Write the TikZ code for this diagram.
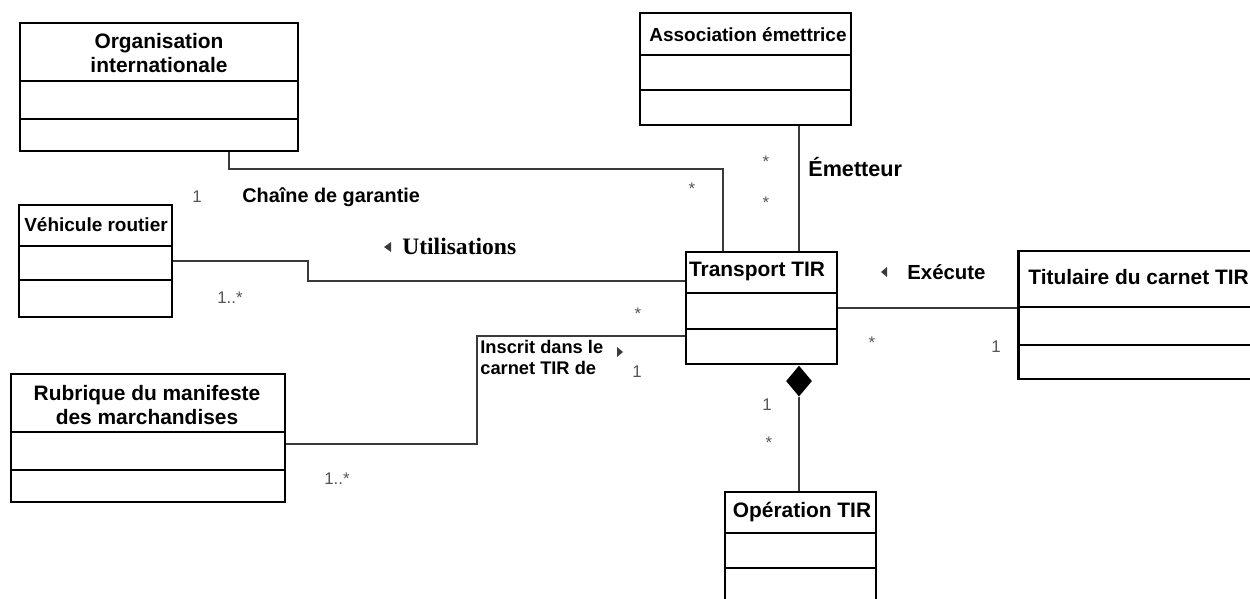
\documentclass[tikz,border=0pt]{standalone}
\usepackage{fontspec}
\setmainfont{Liberation Sans}
\newfontfamily\timesface{Liberation Serif}
\usetikzlibrary{shapes.geometric}
\definecolor{linegray}{HTML}{3A3A3A}
\definecolor{multgray}{HTML}{555555}
\begin{document}
\begin{tikzpicture}[x=0.02cm,y=-0.02cm,
  frame/.style={draw=black, line width=#1, inner sep=0pt},
  sep/.style={draw=black, line width=#1},
  classtitle/.style={font=\bfseries\fontsize{11.9pt}{13.3pt}\selectfont, inner sep=0pt, align=center},
  smalltitle/.style={font=\bfseries\fontsize{10.8pt}{12.5pt}\selectfont, inner sep=0pt, align=center},
  assoclabel/.style={font=\bfseries\fontsize{11.6pt}{13pt}\selectfont, inner sep=0pt, anchor=west},
  mult/.style={font=\fontsize{9.6pt}{11pt}\selectfont, text=multgray, inner sep=0pt},
  conn/.style={draw=linegray, line width=0.9pt},
  dirtri/.style={fill=linegray}]
\useasboundingbox (0,0) rectangle (1250,598);

% ---- classes ----
% Organisation internationale
\node[frame=1.7pt, minimum width={278*0.02cm}, minimum height={128*0.02cm}] (org) at (159,87) {};
\draw[sep=1.7pt] (org.west |- 0,81) -- (org.east |- 0,81);
\draw[sep=1.7pt] (org.west |- 0,119) -- (org.east |- 0,119);
\node[classtitle] (orgT) at (159,53) {Organisation\\internationale};

% Association émettrice
\node[frame=1.2pt, minimum width={211*0.02cm}, minimum height={112*0.02cm}] (assoc) at (745.5,69) {};
\draw[sep=1.2pt] (assoc.west |- 0,55) -- (assoc.east |- 0,55);
\draw[sep=1.2pt] (assoc.west |- 0,90) -- (assoc.east |- 0,90);
\node[smalltitle] (assocT) at (748,35) {Association émettrice};

% Véhicule routier
\node[frame=1.2pt, minimum width={153*0.02cm}, minimum height={112*0.02cm}] (veh) at (95.5,261) {};
\draw[sep=1.2pt] (veh.west |- 0,246) -- (veh.east |- 0,246);
\draw[sep=1.2pt] (veh.west |- 0,280) -- (veh.east |- 0,280);
\node[smalltitle] (vehT) at (96,225) {Véhicule routier};

% Transport TIR
\node[frame=1.4pt, minimum width={151*0.02cm}, minimum height={112*0.02cm}] (trans) at (761.5,308) {};
\draw[sep=1.4pt] (trans.west |- 0,293) -- (trans.east |- 0,293);
\draw[sep=1.4pt] (trans.west |- 0,329) -- (trans.east |- 0,329);
\node[classtitle] (transT) at (757,271) {Transport TIR};

% Titulaire du carnet TIR
\node[frame=1.7pt, minimum width={236*0.02cm}, minimum height={128*0.02cm}] (tit) at (1136,315) {};
\draw[sep=1.7pt] (tit.west |- 0,307) -- (tit.east |- 0,307);
\draw[sep=1.7pt] (tit.west |- 0,345) -- (tit.east |- 0,345);
\node[classtitle, anchor=west] (titT) at (1028,277) {Titulaire du carnet TIR};

% Rubrique du manifeste des marchandises
\node[frame=1.7pt, minimum width={274*0.02cm}, minimum height={128*0.02cm}] (rub) at (148,438) {};
\draw[sep=1.7pt] (rub.west |- 0,432) -- (rub.east |- 0,432);
\draw[sep=1.7pt] (rub.west |- 0,470) -- (rub.east |- 0,470);
\node[classtitle] (rubT) at (147,405) {Rubrique du manifeste\\des marchandises};

% Opération TIR
\node[frame=1.2pt, minimum width={151*0.02cm}, minimum height={120*0.02cm}] (op) at (800.5,552) {};
\draw[sep=1.2pt] (op.west |- 0,533) -- (op.east |- 0,533);
\draw[sep=1.2pt] (op.west |- 0,568) -- (op.east |- 0,568);
\node[classtitle] (opT) at (802,512) {Opération TIR};

% ---- associations ----
% Chaîne de garantie
\draw[conn] (org.south -| 229,0) -- (229,169) -- (723,169) -- (trans.north -| 723,0);
\node[mult] (m1) at (197,197) {1};
\node[assoclabel, font=\bfseries\fontsize{11.3pt}{13pt}\selectfont] (chaine) at (242,197) {Chaîne de garantie};
\node[mult] (m2) at (692,189) {*};

% Émetteur
\draw[conn] (assoc.south -| 799,0) -- (trans.north -| 799,0);
\node[mult] (m3) at (766,162) {*};
\node[mult] (m4) at (766,203) {*};
\node[assoclabel, font=\bfseries\fontsize{12.3pt}{14pt}\selectfont] (emet) at (808,167) {Émetteur};

% Utilisations
\draw[conn] (veh.east |- 0,261) -- (308,261) -- (308,281) -- (trans.west |- 0,281);
\fill[dirtri] (391,242) -- (384,247) -- (391,252) -- cycle;
\node[anchor=west, inner sep=0pt, font=\timesface\bfseries\fontsize{13.4pt}{15pt}\selectfont] (util) at (402,246) {Utilisations};
\node[mult] (m5) at (230,298) {1..*};
\node[mult] (m6) at (638,314) {*};

% Inscrit dans le carnet TIR de
\draw[conn] (rub.east |- 0,444) -- (477,444) -- (477,336) -- (trans.west |- 0,336);
\node[anchor=north west, inner sep=0pt, align=left, font=\bfseries\fontsize{10.4pt}{11.9pt}\selectfont] (inscr) at (480,340) {Inscrit dans le\\carnet TIR de};
\fill[dirtri] (617,347) -- (623,352) -- (617,357) -- cycle;
\node[mult] (m7) at (637,372) {1};
\node[mult] (m8) at (337,479) {1..*};

% Exécute
\draw[conn] (trans.east |- 0,308) -- (tit.west |- 0,308);
\fill[dirtri] (887,267) -- (881,272) -- (887,277) -- cycle;
\node[assoclabel] (exec) at (907,272) {Exécute};
\node[mult] (m9) at (872,343) {*};
\node[mult] (m10) at (996,347) {1};

% Composition Transport TIR -- Opération TIR
\node[diamond, fill=black, inner sep=0pt, minimum width={26*0.02cm}, minimum height={31*0.02cm}, anchor=north] (comp) at (trans.south -| 799,0) {};
\draw[conn] (comp.south) -- (op.north -| 799,0);
\node[mult] (m11) at (767,405) {1};
\node[mult] (m12) at (769,443) {*};
\end{tikzpicture}
\end{document}
